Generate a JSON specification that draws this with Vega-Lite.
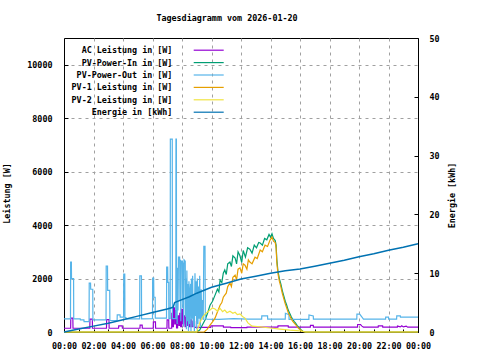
{
  "$schema": "https://vega.github.io/schema/vega-lite/v6.json",
  "width": 354,
  "height": 294,
  "autosize": "none",
  "padding": {"left": 64, "top": 38, "right": 62, "bottom": 28},
  "background": "white",
  "title": {"text": "Tagesdiagramm vom 2026-01-20", "font": "DejaVu Sans Mono", "fontSize": 8.4, "fontWeight": "bold", "color": "black", "anchor": "middle", "frame": "group", "dx": -14, "offset": 5, "baseline": "alphabetic"},
  "config": {
    "view": {"stroke": "black", "strokeWidth": 1},
    "axis": {"labelFont": "DejaVu Sans Mono", "labelFontSize": 8.4, "labelFontWeight": "bold", "titleFont": "DejaVu Sans Mono", "titleFontSize": 8.4, "titleFontWeight": "bold", "labelColor": "black", "titleColor": "black", "domainColor": "black", "tickColor": "black", "gridColor": "#a0a0a0", "gridDash": [3, 4], "labelAngle": 0}
  },
  "data": {"values": [
    {"s":"AC","h":0,"v":140},{"s":"AC","h":0.45,"v":140},{"s":"AC","h":0.46,"v":520},{"s":"AC","h":0.6,"v":520},{"s":"AC","h":0.61,"v":140},
    {"s":"AC","h":1.75,"v":140},{"s":"AC","h":1.76,"v":480},{"s":"AC","h":1.92,"v":480},{"s":"AC","h":1.93,"v":140},
    {"s":"AC","h":2.88,"v":140},{"s":"AC","h":2.89,"v":460},{"s":"AC","h":3.05,"v":460},{"s":"AC","h":3.06,"v":140},
    {"s":"AC","h":3.7,"v":140},{"s":"AC","h":3.71,"v":230},{"s":"AC","h":3.95,"v":230},{"s":"AC","h":3.96,"v":140},
    {"s":"AC","h":5.15,"v":140},{"s":"AC","h":5.16,"v":260},{"s":"AC","h":5.3,"v":260},{"s":"AC","h":5.31,"v":140},
    {"s":"AC","h":6.05,"v":140},{"s":"AC","h":6.06,"v":380},{"s":"AC","h":6.2,"v":380},{"s":"AC","h":6.21,"v":140},
    {"s":"AC","h":6.98,"v":140},{"s":"AC","h":6.99,"v":450},{"s":"AC","h":7.1,"v":450},{"s":"AC","h":7.11,"v":140},
    {"s":"AC","h":7.3,"v":140},{"s":"AC","h":7.31,"v":700},{"s":"AC","h":7.37,"v":700},{"s":"AC","h":7.38,"v":200},{"s":"AC","h":7.42,"v":200},{"s":"AC","h":7.43,"v":900},{"s":"AC","h":7.5,"v":900},{"s":"AC","h":7.51,"v":300},{"s":"AC","h":7.55,"v":300},{"s":"AC","h":7.56,"v":800},{"s":"AC","h":7.62,"v":800},{"s":"AC","h":7.63,"v":150},{"s":"AC","h":7.7,"v":150},{"s":"AC","h":7.71,"v":600},{"s":"AC","h":7.78,"v":600},{"s":"AC","h":7.79,"v":250},{"s":"AC","h":7.84,"v":250},{"s":"AC","h":7.85,"v":700},{"s":"AC","h":7.9,"v":700},{"s":"AC","h":7.91,"v":200},{"s":"AC","h":7.97,"v":200},{"s":"AC","h":7.98,"v":850},{"s":"AC","h":8.05,"v":850},{"s":"AC","h":8.06,"v":300},{"s":"AC","h":8.11,"v":300},{"s":"AC","h":8.12,"v":600},{"s":"AC","h":8.2,"v":600},{"s":"AC","h":8.21,"v":200},{"s":"AC","h":8.26,"v":200},{"s":"AC","h":8.27,"v":550},{"s":"AC","h":8.35,"v":550},{"s":"AC","h":8.36,"v":250},{"s":"AC","h":8.41,"v":250},{"s":"AC","h":8.42,"v":600},{"s":"AC","h":8.5,"v":600},{"s":"AC","h":8.51,"v":200},{"s":"AC","h":8.56,"v":200},{"s":"AC","h":8.57,"v":450},{"s":"AC","h":8.65,"v":450},{"s":"AC","h":8.66,"v":200},{"s":"AC","h":8.74,"v":200},{"s":"AC","h":8.75,"v":400},{"s":"AC","h":8.85,"v":400},{"s":"AC","h":8.86,"v":170},
    {"s":"AC","h":9.95,"v":170},{"s":"AC","h":9.96,"v":230},{"s":"AC","h":10.8,"v":230},{"s":"AC","h":10.81,"v":180},{"s":"AC","h":11.3,"v":180},{"s":"AC","h":11.31,"v":160},{"s":"AC","h":12.4,"v":160},{"s":"AC","h":12.41,"v":180},{"s":"AC","h":14.5,"v":180},{"s":"AC","h":14.51,"v":230},{"s":"AC","h":15.2,"v":230},{"s":"AC","h":15.21,"v":180},
    {"s":"AC","h":16.7,"v":180},{"s":"AC","h":16.71,"v":250},{"s":"AC","h":16.9,"v":250},{"s":"AC","h":16.91,"v":180},{"s":"AC","h":19.9,"v":180},{"s":"AC","h":19.91,"v":280},{"s":"AC","h":20.1,"v":280},{"s":"AC","h":20.2,"v":220},{"s":"AC","h":20.3,"v":180},{"s":"AC","h":21.3,"v":180},{"s":"AC","h":21.31,"v":230},{"s":"AC","h":21.6,"v":230},{"s":"AC","h":21.61,"v":180},{"s":"AC","h":22.6,"v":180},{"s":"AC","h":22.61,"v":220},{"s":"AC","h":22.8,"v":190},{"s":"AC","h":22.9,"v":230},{"s":"AC","h":23.0,"v":190},{"s":"AC","h":23.2,"v":220},{"s":"AC","h":23.3,"v":180},{"s":"AC","h":24,"v":180},

    {"s":"IN","h":0,"v":0},{"s":"IN","h":9.0,"v":0},{"s":"IN","h":9.2,"v":75},{"s":"IN","h":9.38,"v":260},{"s":"IN","h":9.56,"v":450},{"s":"IN","h":9.73,"v":700},{"s":"IN","h":9.9,"v":1000},{"s":"IN","h":10.07,"v":1150},{"s":"IN","h":10.24,"v":1380},{"s":"IN","h":10.4,"v":1600},{"s":"IN","h":10.5,"v":1500},{"s":"IN","h":10.58,"v":1940},{"s":"IN","h":10.7,"v":1850},{"s":"IN","h":10.8,"v":2200},{"s":"IN","h":10.9,"v":2320},{"s":"IN","h":11.0,"v":2150},{"s":"IN","h":11.1,"v":2550},{"s":"IN","h":11.25,"v":2620},{"s":"IN","h":11.35,"v":2450},{"s":"IN","h":11.45,"v":2850},{"s":"IN","h":11.6,"v":2770},{"s":"IN","h":11.7,"v":2550},{"s":"IN","h":11.8,"v":3000},{"s":"IN","h":11.93,"v":2850},{"s":"IN","h":12.05,"v":2600},{"s":"IN","h":12.15,"v":3050},{"s":"IN","h":12.3,"v":2800},{"s":"IN","h":12.45,"v":3150},{"s":"IN","h":12.6,"v":3100},{"s":"IN","h":12.75,"v":2950},{"s":"IN","h":12.9,"v":3250},{"s":"IN","h":13.05,"v":3150},{"s":"IN","h":13.2,"v":3350},{"s":"IN","h":13.3,"v":3330},{"s":"IN","h":13.45,"v":3250},{"s":"IN","h":13.6,"v":3500},{"s":"IN","h":13.75,"v":3450},{"s":"IN","h":13.9,"v":3650},{"s":"IN","h":14.0,"v":3550},{"s":"IN","h":14.1,"v":3680},{"s":"IN","h":14.2,"v":3500},{"s":"IN","h":14.32,"v":3420},{"s":"IN","h":14.38,"v":3250},{"s":"IN","h":14.43,"v":2700},{"s":"IN","h":14.5,"v":2300},{"s":"IN","h":14.6,"v":2000},{"s":"IN","h":14.7,"v":1800},{"s":"IN","h":14.8,"v":1550},{"s":"IN","h":14.9,"v":1350},{"s":"IN","h":15.0,"v":1150},{"s":"IN","h":15.1,"v":1000},{"s":"IN","h":15.2,"v":820},{"s":"IN","h":15.3,"v":700},{"s":"IN","h":15.4,"v":580},{"s":"IN","h":15.5,"v":480},{"s":"IN","h":15.6,"v":400},{"s":"IN","h":15.7,"v":330},{"s":"IN","h":15.8,"v":250},{"s":"IN","h":15.9,"v":180},{"s":"IN","h":16.0,"v":120},{"s":"IN","h":16.1,"v":70},{"s":"IN","h":16.2,"v":30},{"s":"IN","h":16.35,"v":0},{"s":"IN","h":24,"v":0},

    {"s":"OUT","h":0,"v":490},{"s":"OUT","h":0.44,"v":490},{"s":"OUT","h":0.45,"v":2620},{"s":"OUT","h":0.5,"v":2620},{"s":"OUT","h":0.51,"v":2000},{"s":"OUT","h":0.65,"v":2000},{"s":"OUT","h":0.66,"v":490},{"s":"OUT","h":1.1,"v":490},{"s":"OUT","h":1.11,"v":450},{"s":"OUT","h":1.35,"v":450},{"s":"OUT","h":1.36,"v":390},{"s":"OUT","h":1.7,"v":390},{"s":"OUT","h":1.71,"v":1830},{"s":"OUT","h":1.8,"v":1830},{"s":"OUT","h":1.81,"v":1600},{"s":"OUT","h":1.95,"v":1600},{"s":"OUT","h":1.96,"v":450},
    {"s":"OUT","h":2.85,"v":450},{"s":"OUT","h":2.86,"v":2470},{"s":"OUT","h":2.95,"v":2470},{"s":"OUT","h":2.96,"v":1560},{"s":"OUT","h":3.1,"v":1560},{"s":"OUT","h":3.11,"v":430},{"s":"OUT","h":3.6,"v":430},{"s":"OUT","h":3.61,"v":640},{"s":"OUT","h":3.8,"v":640},{"s":"OUT","h":3.81,"v":560},{"s":"OUT","h":4.04,"v":560},{"s":"OUT","h":4.05,"v":2170},{"s":"OUT","h":4.12,"v":2170},{"s":"OUT","h":4.13,"v":540},{"s":"OUT","h":4.2,"v":540},{"s":"OUT","h":4.21,"v":490},
    {"s":"OUT","h":5.13,"v":490},{"s":"OUT","h":5.14,"v":2100},{"s":"OUT","h":5.25,"v":2100},{"s":"OUT","h":5.26,"v":490},{"s":"OUT","h":6.0,"v":500},{"s":"OUT","h":6.01,"v":2020},{"s":"OUT","h":6.08,"v":2020},{"s":"OUT","h":6.09,"v":1300},{"s":"OUT","h":6.18,"v":1300},{"s":"OUT","h":6.19,"v":520},{"s":"OUT","h":6.95,"v":520},{"s":"OUT","h":6.96,"v":2430},{"s":"OUT","h":7.03,"v":2430},{"s":"OUT","h":7.04,"v":1860},{"s":"OUT","h":7.1,"v":1860},{"s":"OUT","h":7.11,"v":500},
    {"s":"OUT","h":7.2,"v":500},{"s":"OUT","h":7.21,"v":7220},{"s":"OUT","h":7.34,"v":7220},{"s":"OUT","h":7.35,"v":500},{"s":"OUT","h":7.58,"v":500},{"s":"OUT","h":7.59,"v":7220},{"s":"OUT","h":7.62,"v":7220},{"s":"OUT","h":7.63,"v":500},
    {"s":"OUT","h":7.65,"v":2000},{"s":"OUT","h":7.67,"v":300},{"s":"OUT","h":7.7,"v":2400},{"s":"OUT","h":7.73,"v":800},{"s":"OUT","h":7.76,"v":2800},{"s":"OUT","h":7.84,"v":2800},{"s":"OUT","h":7.86,"v":1200},{"s":"OUT","h":7.89,"v":2700},{"s":"OUT","h":7.92,"v":400},{"s":"OUT","h":7.95,"v":2650},{"s":"OUT","h":8.03,"v":2650},{"s":"OUT","h":8.05,"v":900},{"s":"OUT","h":8.08,"v":2600},{"s":"OUT","h":8.11,"v":200},{"s":"OUT","h":8.14,"v":2700},{"s":"OUT","h":8.22,"v":2650},{"s":"OUT","h":8.24,"v":600},{"s":"OUT","h":8.27,"v":2000},{"s":"OUT","h":8.3,"v":100},{"s":"OUT","h":8.33,"v":2300},{"s":"OUT","h":8.37,"v":400},{"s":"OUT","h":8.4,"v":1800},{"s":"OUT","h":8.44,"v":0},{"s":"OUT","h":8.47,"v":1900},{"s":"OUT","h":8.51,"v":300},{"s":"OUT","h":8.54,"v":1500},{"s":"OUT","h":8.58,"v":1800},{"s":"OUT","h":8.61,"v":0},{"s":"OUT","h":8.64,"v":2000},{"s":"OUT","h":8.68,"v":500},{"s":"OUT","h":8.72,"v":2100},{"s":"OUT","h":8.76,"v":200},{"s":"OUT","h":8.8,"v":1400},{"s":"OUT","h":8.84,"v":0},{"s":"OUT","h":8.88,"v":2200},{"s":"OUT","h":8.92,"v":600},{"s":"OUT","h":8.96,"v":1900},{"s":"OUT","h":9.0,"v":100},{"s":"OUT","h":9.04,"v":2000},{"s":"OUT","h":9.08,"v":300},{"s":"OUT","h":9.12,"v":1700},{"s":"OUT","h":9.16,"v":500},{"s":"OUT","h":9.2,"v":2100},{"s":"OUT","h":9.24,"v":200},{"s":"OUT","h":9.3,"v":1600},{"s":"OUT","h":9.34,"v":500},{"s":"OUT","h":9.4,"v":1200},{"s":"OUT","h":9.44,"v":450},{"s":"OUT","h":9.48,"v":3200},{"s":"OUT","h":9.56,"v":3200},{"s":"OUT","h":9.58,"v":500},
    {"s":"OUT","h":9.7,"v":480},{"s":"OUT","h":10.5,"v":470},{"s":"OUT","h":11.5,"v":500},{"s":"OUT","h":12.5,"v":480},{"s":"OUT","h":13.4,"v":480},{"s":"OUT","h":13.41,"v":600},{"s":"OUT","h":13.8,"v":600},{"s":"OUT","h":13.81,"v":480},{"s":"OUT","h":15.0,"v":480},{"s":"OUT","h":15.01,"v":700},{"s":"OUT","h":15.25,"v":650},{"s":"OUT","h":15.26,"v":470},{"s":"OUT","h":16.6,"v":470},{"s":"OUT","h":16.61,"v":640},{"s":"OUT","h":16.9,"v":600},{"s":"OUT","h":16.91,"v":480},{"s":"OUT","h":19.85,"v":480},{"s":"OUT","h":19.86,"v":670},{"s":"OUT","h":20.05,"v":670},{"s":"OUT","h":20.2,"v":560},{"s":"OUT","h":20.3,"v":480},{"s":"OUT","h":21.8,"v":480},{"s":"OUT","h":21.81,"v":560},{"s":"OUT","h":22.0,"v":560},{"s":"OUT","h":22.01,"v":480},{"s":"OUT","h":22.55,"v":480},{"s":"OUT","h":22.56,"v":600},{"s":"OUT","h":22.8,"v":600},{"s":"OUT","h":22.81,"v":560},{"s":"OUT","h":24,"v":560},

    {"s":"P1","h":0,"v":0},{"s":"P1","h":9.5,"v":0},{"s":"P1","h":9.7,"v":100},{"s":"P1","h":9.9,"v":260},{"s":"P1","h":10.07,"v":380},{"s":"P1","h":10.24,"v":520},{"s":"P1","h":10.4,"v":750},{"s":"P1","h":10.58,"v":1000},{"s":"P1","h":10.7,"v":1100},{"s":"P1","h":10.8,"v":1300},{"s":"P1","h":10.9,"v":1380},{"s":"P1","h":11.0,"v":1450},{"s":"P1","h":11.1,"v":1700},{"s":"P1","h":11.25,"v":1830},{"s":"P1","h":11.35,"v":1700},{"s":"P1","h":11.45,"v":2050},{"s":"P1","h":11.6,"v":2130},{"s":"P1","h":11.7,"v":1950},{"s":"P1","h":11.8,"v":2350},{"s":"P1","h":11.93,"v":2400},{"s":"P1","h":12.05,"v":2200},{"s":"P1","h":12.15,"v":2550},{"s":"P1","h":12.27,"v":2500},{"s":"P1","h":12.4,"v":2350},{"s":"P1","h":12.5,"v":2700},{"s":"P1","h":12.6,"v":2620},{"s":"P1","h":12.75,"v":2550},{"s":"P1","h":12.95,"v":2800},{"s":"P1","h":13.1,"v":2750},{"s":"P1","h":13.3,"v":3070},{"s":"P1","h":13.45,"v":3000},{"s":"P1","h":13.63,"v":3250},{"s":"P1","h":13.8,"v":3200},{"s":"P1","h":13.97,"v":3440},{"s":"P1","h":14.1,"v":3550},{"s":"P1","h":14.2,"v":3400},{"s":"P1","h":14.32,"v":3350},{"s":"P1","h":14.38,"v":3150},{"s":"P1","h":14.43,"v":2600},{"s":"P1","h":14.5,"v":2200},{"s":"P1","h":14.6,"v":1900},{"s":"P1","h":14.7,"v":1700},{"s":"P1","h":14.8,"v":1450},{"s":"P1","h":14.9,"v":1250},{"s":"P1","h":15.0,"v":1050},{"s":"P1","h":15.1,"v":900},{"s":"P1","h":15.2,"v":730},{"s":"P1","h":15.3,"v":620},{"s":"P1","h":15.4,"v":500},{"s":"P1","h":15.5,"v":410},{"s":"P1","h":15.6,"v":340},{"s":"P1","h":15.7,"v":280},{"s":"P1","h":15.8,"v":200},{"s":"P1","h":15.9,"v":140},{"s":"P1","h":16.0,"v":90},{"s":"P1","h":16.1,"v":50},{"s":"P1","h":16.2,"v":20},{"s":"P1","h":16.35,"v":0},{"s":"P1","h":24,"v":0},

    {"s":"P2","h":0,"v":0},{"s":"P2","h":9.0,"v":0},{"s":"P2","h":9.22,"v":370},{"s":"P2","h":9.4,"v":560},{"s":"P2","h":9.56,"v":670},{"s":"P2","h":9.75,"v":760},{"s":"P2","h":9.9,"v":820},{"s":"P2","h":10.05,"v":900},{"s":"P2","h":10.24,"v":860},{"s":"P2","h":10.4,"v":780},{"s":"P2","h":10.58,"v":880},{"s":"P2","h":10.75,"v":760},{"s":"P2","h":10.9,"v":820},{"s":"P2","h":11.05,"v":720},{"s":"P2","h":11.25,"v":780},{"s":"P2","h":11.45,"v":700},{"s":"P2","h":11.6,"v":740},{"s":"P2","h":11.75,"v":650},{"s":"P2","h":11.93,"v":680},{"s":"P2","h":12.1,"v":580},{"s":"P2","h":12.27,"v":520},{"s":"P2","h":12.47,"v":340},{"s":"P2","h":12.75,"v":220},{"s":"P2","h":13.3,"v":190},{"s":"P2","h":14.0,"v":150},{"s":"P2","h":14.64,"v":110},{"s":"P2","h":15.3,"v":70},{"s":"P2","h":16.0,"v":40},{"s":"P2","h":16.4,"v":0},{"s":"P2","h":24,"v":0},

    {"s":"E","h":0,"v":0},{"s":"E","h":1,"v":0.5},{"s":"E","h":2,"v":1.0},{"s":"E","h":3,"v":1.5},{"s":"E","h":4,"v":2.1},{"s":"E","h":5,"v":2.7},{"s":"E","h":6,"v":3.3},{"s":"E","h":7,"v":3.9},{"s":"E","h":7.4,"v":4.2},{"s":"E","h":7.5,"v":5.0},{"s":"E","h":8,"v":5.5},{"s":"E","h":8.5,"v":6.0},{"s":"E","h":9,"v":6.6},{"s":"E","h":10,"v":7.6},{"s":"E","h":11,"v":8.3},{"s":"E","h":12,"v":9.0},{"s":"E","h":13,"v":9.5},{"s":"E","h":14,"v":10.0},{"s":"E","h":15,"v":10.4},{"s":"E","h":16,"v":10.7},{"s":"E","h":17,"v":11.2},{"s":"E","h":18,"v":11.7},{"s":"E","h":19,"v":12.2},{"s":"E","h":20,"v":12.8},{"s":"E","h":21,"v":13.3},{"s":"E","h":22,"v":13.9},{"s":"E","h":23,"v":14.4},{"s":"E","h":24,"v":15.0}
  ]},
  "encoding": {
    "x": {"field": "h", "type": "quantitative", "scale": {"domain": [0, 24], "nice": false},
      "axis": {"values": [0,1,2,3,4,5,6,7,8,9,10,11,12,13,14,15,16,17,18,19,20,21,22,23,24], "title": null, "tickSize": -3, "labelPadding": 12, "grid": true, "labelFlush": false, "labelOverlap": false,
        "labelExpr": "datum.value % 2 == 0 ? ((datum.value % 24 < 10 ? '0' : '') + (datum.value % 24) + ':00') : ''",
        "gridOpacity": {"condition": {"test": "datum.value % 2 == 1", "value": 0}, "value": 1}}},
    "color": {"field": "s", "type": "nominal",
      "scale": {"domain": ["AC","IN","OUT","P1","P2","E"], "range": ["#9400d3","#009e73","#56b4e9","#e69f00","#f0e442","#0072b2"]},
      "legend": {"orient": "none", "legendX": 140.5, "legendY": 8, "title": null, "symbolType": "M-5,0H5", "symbolSize": 36, "symbolStrokeWidth": 1.2, "labelAlign": "right", "labelOffset": -40.5, "labelFont": "DejaVu Sans Mono", "labelFontSize": 8.4, "labelFontWeight": "bold", "labelColor": "black", "rowPadding": 3.4, "padding": 0, "labelLimit": 0,
        "labelExpr": "datum.label == 'AC' ? 'AC Leistung in [W]' : datum.label == 'IN' ? 'PV-Power-In in [W]' : datum.label == 'OUT' ? 'PV-Power-Out in [W]' : datum.label == 'P1' ? 'PV-1 Leistung in [W]' : datum.label == 'P2' ? 'PV-2 Leistung in [W]' : 'Energie in [kWh]'"}}
  },
  "layer": [
    {"transform": [{"filter": "datum.s != 'E'"}],
     "mark": {"type": "line", "strokeWidth": 1.2},
     "encoding": {"y": {"field": "v", "type": "quantitative", "scale": {"domain": [0, 11000], "nice": false},
       "axis": {"values": [0,2000,4000,6000,8000,10000], "format": "d", "title": "Leistung [W]", "tickSize": -4, "labelPadding": 16, "titlePadding": 15, "titleY": 155, "grid": true}}}},
    {"transform": [{"filter": "datum.s == 'E'"}],
     "mark": {"type": "line", "strokeWidth": 1.5},
     "encoding": {"y": {"field": "v", "type": "quantitative", "scale": {"domain": [0, 50], "nice": false},
       "axis": {"orient": "right", "values": [0,10,20,30,40,50], "format": "d", "title": "Energie [kWh]", "tickSize": -4, "labelPadding": 15, "titlePadding": 17, "titleAngle": 270, "titleY": 157, "grid": false}}}}
  ],
  "resolve": {"scale": {"y": "independent"}}
}
